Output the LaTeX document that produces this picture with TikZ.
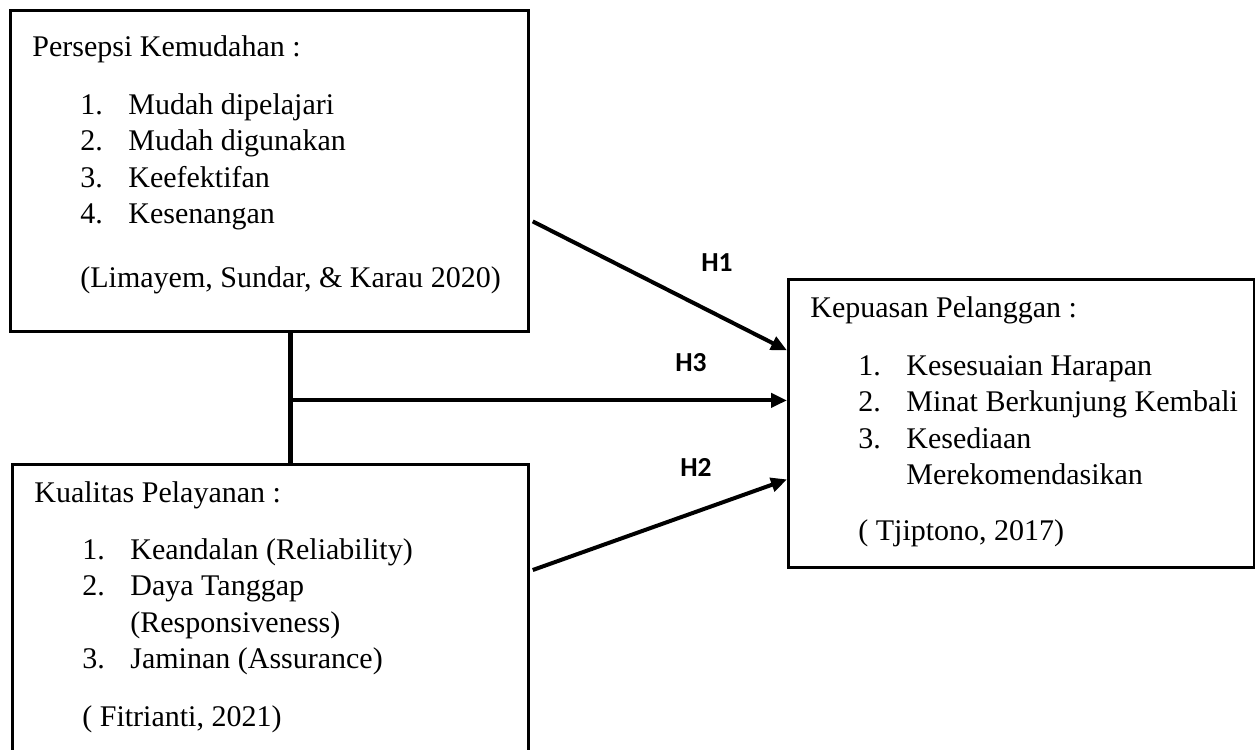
\documentclass[tikz,border=0pt]{standalone}
\usepackage{fontspec}
\setmainfont{Liberation Serif}
\newfontfamily\hfont{Carlito}
\usetikzlibrary{positioning,arrows.meta}

\newcommand{\butir}[2]{\hspace*{19.2pt}\makebox[19.2pt][l]{#1.}\mbox{#2}}
\newcommand{\lanjut}[1]{\hspace*{38.4pt}\mbox{#1}}

\begin{document}
\begin{tikzpicture}[
        x=0.4pt, y=-0.4pt,
        kotak/.style={draw, line width=1.1pt, anchor=north west, inner xsep=8.8pt, inner ysep=0pt,
            font=\fontsize{12pt}{14.6pt}\selectfont},
        garis/.style={draw, line width=1.7pt},
        panah/.style={draw, line width=1.6pt, -{Triangle[length=6.4pt, width=5.6pt]}},
        hipotesis/.style={font=\hfont\bfseries\fontsize{11pt}{13pt}\selectfont}]
    \useasboundingbox (0,0) rectangle (1255,749);
    \node[kotak] (pk) at (9,9) {\parbox[c][128.4pt][t]{189.6pt}{\raggedright
        \rule{0pt}{18.4pt}Persepsi Kemudahan :\\[8.5pt]
        \butir{1}{Mudah dipelajari}\\
        \butir{2}{Mudah digunakan}\\
        \butir{3}{Keefektifan}\\
        \butir{4}{Kesenangan}\\[10.9pt]
        \hspace*{19.2pt}(Limayem, Sundar, \& Karau 2020)}};
    \node[kotak] (kp) at (11,463) {\parbox[c][134.8pt][t]{188.8pt}{\raggedright
        \rule{0pt}{15.2pt}Kualitas Pelayanan :\\[8.1pt]
        \butir{1}{Keandalan (Reliability)}\\
        \butir{2}{Daya Tanggap}\\
        \lanjut{(Responsiveness)}\\
        \butir{3}{Jaminan (Assurance)}\\[8.5pt]
        \hspace*{19.2pt}( Fitrianti, 2021)}};
    \node[kotak] (kk) at (787,278) {\parbox[c][115.2pt][t]{168.8pt}{\raggedright
        \rule{0pt}{15.2pt}Kepuasan Pelanggan :\\[8.5pt]
        \butir{1}{Kesesuaian Harapan}\\
        \butir{2}{Minat Berkunjung Kembali}\\
        \butir{3}{Kesediaan}\\
        \lanjut{Merekomendasikan}\\[7.7pt]
        \hspace*{19.2pt}( Tjiptono, 2017)}};
    % penghubung kedua variabel bebas
    \coordinate (tengah) at ([xshift=8.4pt]pk.south);
    \draw[garis] (tengah) -- (tengah |- kp.north);
    \coordinate (ujung3) at ([yshift=9.2pt]kk.west);
    \coordinate (awal3) at (tengah |- ujung3);
    % hipotesis
    \draw[panah] ([xshift=1.2pt, yshift=-20.2pt]pk.east) -- ([yshift=29.2pt]kk.west);
    \draw[panah] (awal3) -- (ujung3);
    \draw[panah] ([xshift=1.2pt, yshift=-42.8pt]kp.north east) -- ([yshift=-22.4pt]kk.west);
    \node[hipotesis] (h1) at (717,263) {H1};
    \node[hipotesis] (h3) at (691,363) {H3};
    \node[hipotesis] (h2) at (696,467) {H2};
\end{tikzpicture}
\end{document}
